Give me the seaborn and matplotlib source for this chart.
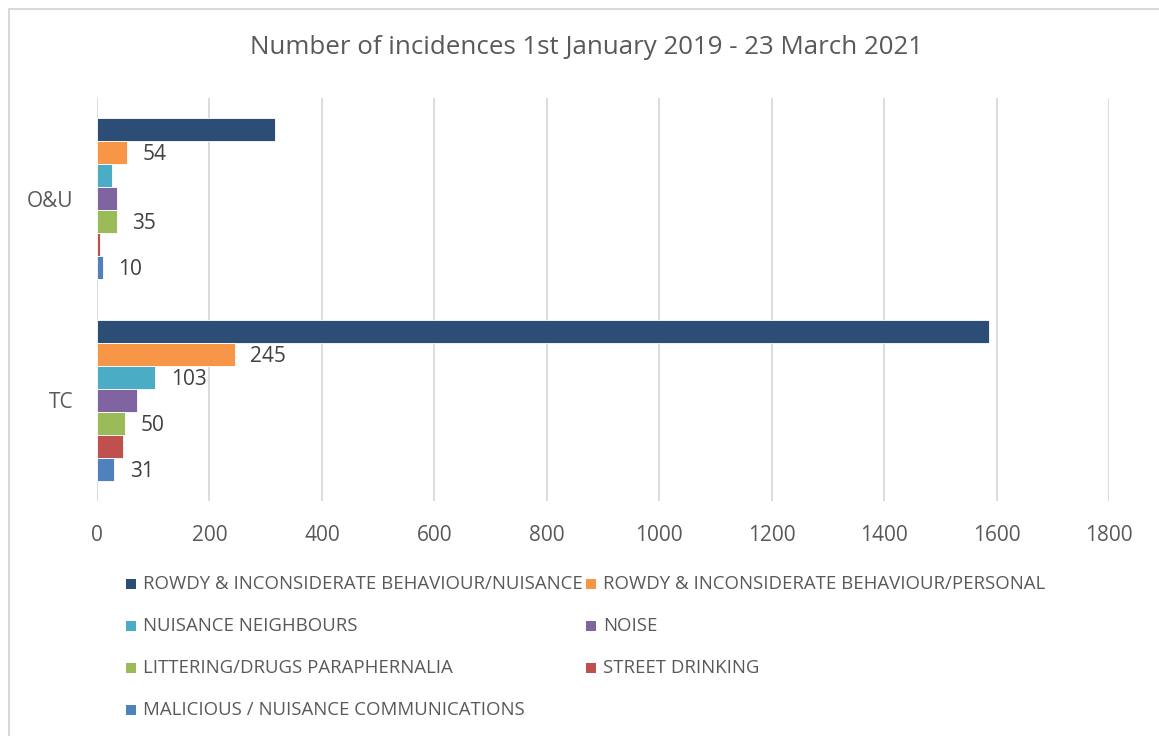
import pandas as pd
import numpy as np
import matplotlib
matplotlib.use("Agg")
import matplotlib.pyplot as plt
import seaborn as sns
from matplotlib.patches import Rectangle

areas = ["O&U", "TC"]
categories = [
    "ROWDY & INCONSIDERATE BEHAVIOUR/NUISANCE",
    "ROWDY & INCONSIDERATE BEHAVIOUR/PERSONAL",
    "NUISANCE NEIGHBOURS",
    "NOISE",
    "LITTERING/DRUGS PARAPHERNALIA",
    "STREET DRINKING",
    "MALICIOUS / NUISANCE COMMUNICATIONS",
]
ou_values = [316, 54, 26, 35, 35, 6, 10]
tc_values = [1586, 245, 103, 72, 50, 46, 31]
# which bars carry a data label in the original
ou_labelled = [False, True, False, False, True, False, True]
tc_labelled = [False, True, True, False, True, False, True]
colors = ["#2C4D75", "#F79646", "#4BACC6", "#8064A2", "#9BBB59", "#C0504D", "#4F81BD"]

df = pd.DataFrame({
    "Area": ["O&U"] * len(categories) + ["TC"] * len(categories),
    "Type": categories * 2,
    "Count": ou_values + tc_values,
    "Show": ou_labelled + tc_labelled,
})

sns.set_style("white")
plt.rcParams["font.family"] = ["Open Sans", "DejaVu Sans"]
txt = "#595959"

fig = plt.figure(figsize=(11.59, 7.36), dpi=100)
ax = fig.add_axes([97 / 1159, 1 - 501 / 736, (1109 - 97) / 1159, (501 - 98) / 736])

sns.barplot(data=df, x="Count", y="Area", hue="Type", hue_order=categories,
            order=areas, palette=colors, orient="h", width=0.8, ax=ax,
            edgecolor="white", linewidth=0.6, saturation=1, legend=False)

ax.set_xlim(0, 1800)
ax.set_ylim(1.5, -0.5)
ax.set_xticks(np.arange(0, 1801, 200))
ax.xaxis.grid(True, color="#D9D9D9", linewidth=1.3)
ax.set_axisbelow(True)
for s in ax.spines.values():
    s.set_visible(False)
ax.tick_params(axis="both", length=0, labelsize=15, colors=txt)
ax.tick_params(axis="x", pad=17)
ax.tick_params(axis="y", pad=17)
ax.set_xlabel("")
ax.set_ylabel("")

# data labels
for container, cat in zip(ax.containers, categories):
    for bar, area in zip(container, areas):
        row = df[(df.Area == area) & (df.Type == cat)].iloc[0]
        if row.Show:
            ax.text(row.Count + 28, bar.get_y() + bar.get_height() / 2 + 0.01,
                    str(row.Count), va="center", ha="left", fontsize=15, color="#404040")

fig.text(586 / 1159, 1 - 48 / 736, "Number of incidences 1st January 2019 - 23 March 2021",
         ha="center", va="center", fontsize=18.6, color=txt)

# legend
legend_pos = [(131, 584), (591, 584), (131, 626), (591, 626), (131, 668), (591, 668), (131, 710)]
for (lx, ly), cat, col in zip(legend_pos, categories, colors):
    fig.patches.append(Rectangle(((lx - 5) / 1159, 1 - (ly + 5) / 736), 10 / 1159, 10 / 736,
                                 transform=fig.transFigure, facecolor=col, edgecolor="none"))
    fig.text((lx + 12) / 1159, 1 - ly / 736, cat, ha="left", va="center",
             fontsize=13.4, color=txt)

# chart area border
fig.patches.append(Rectangle((9 / 1159, -0.05), 1.2, 1 - 9 / 736 + 0.05, transform=fig.transFigure,
                             facecolor="none", edgecolor="#D9D9D9", linewidth=1.5))

fig.savefig("out.png", dpi=100)
